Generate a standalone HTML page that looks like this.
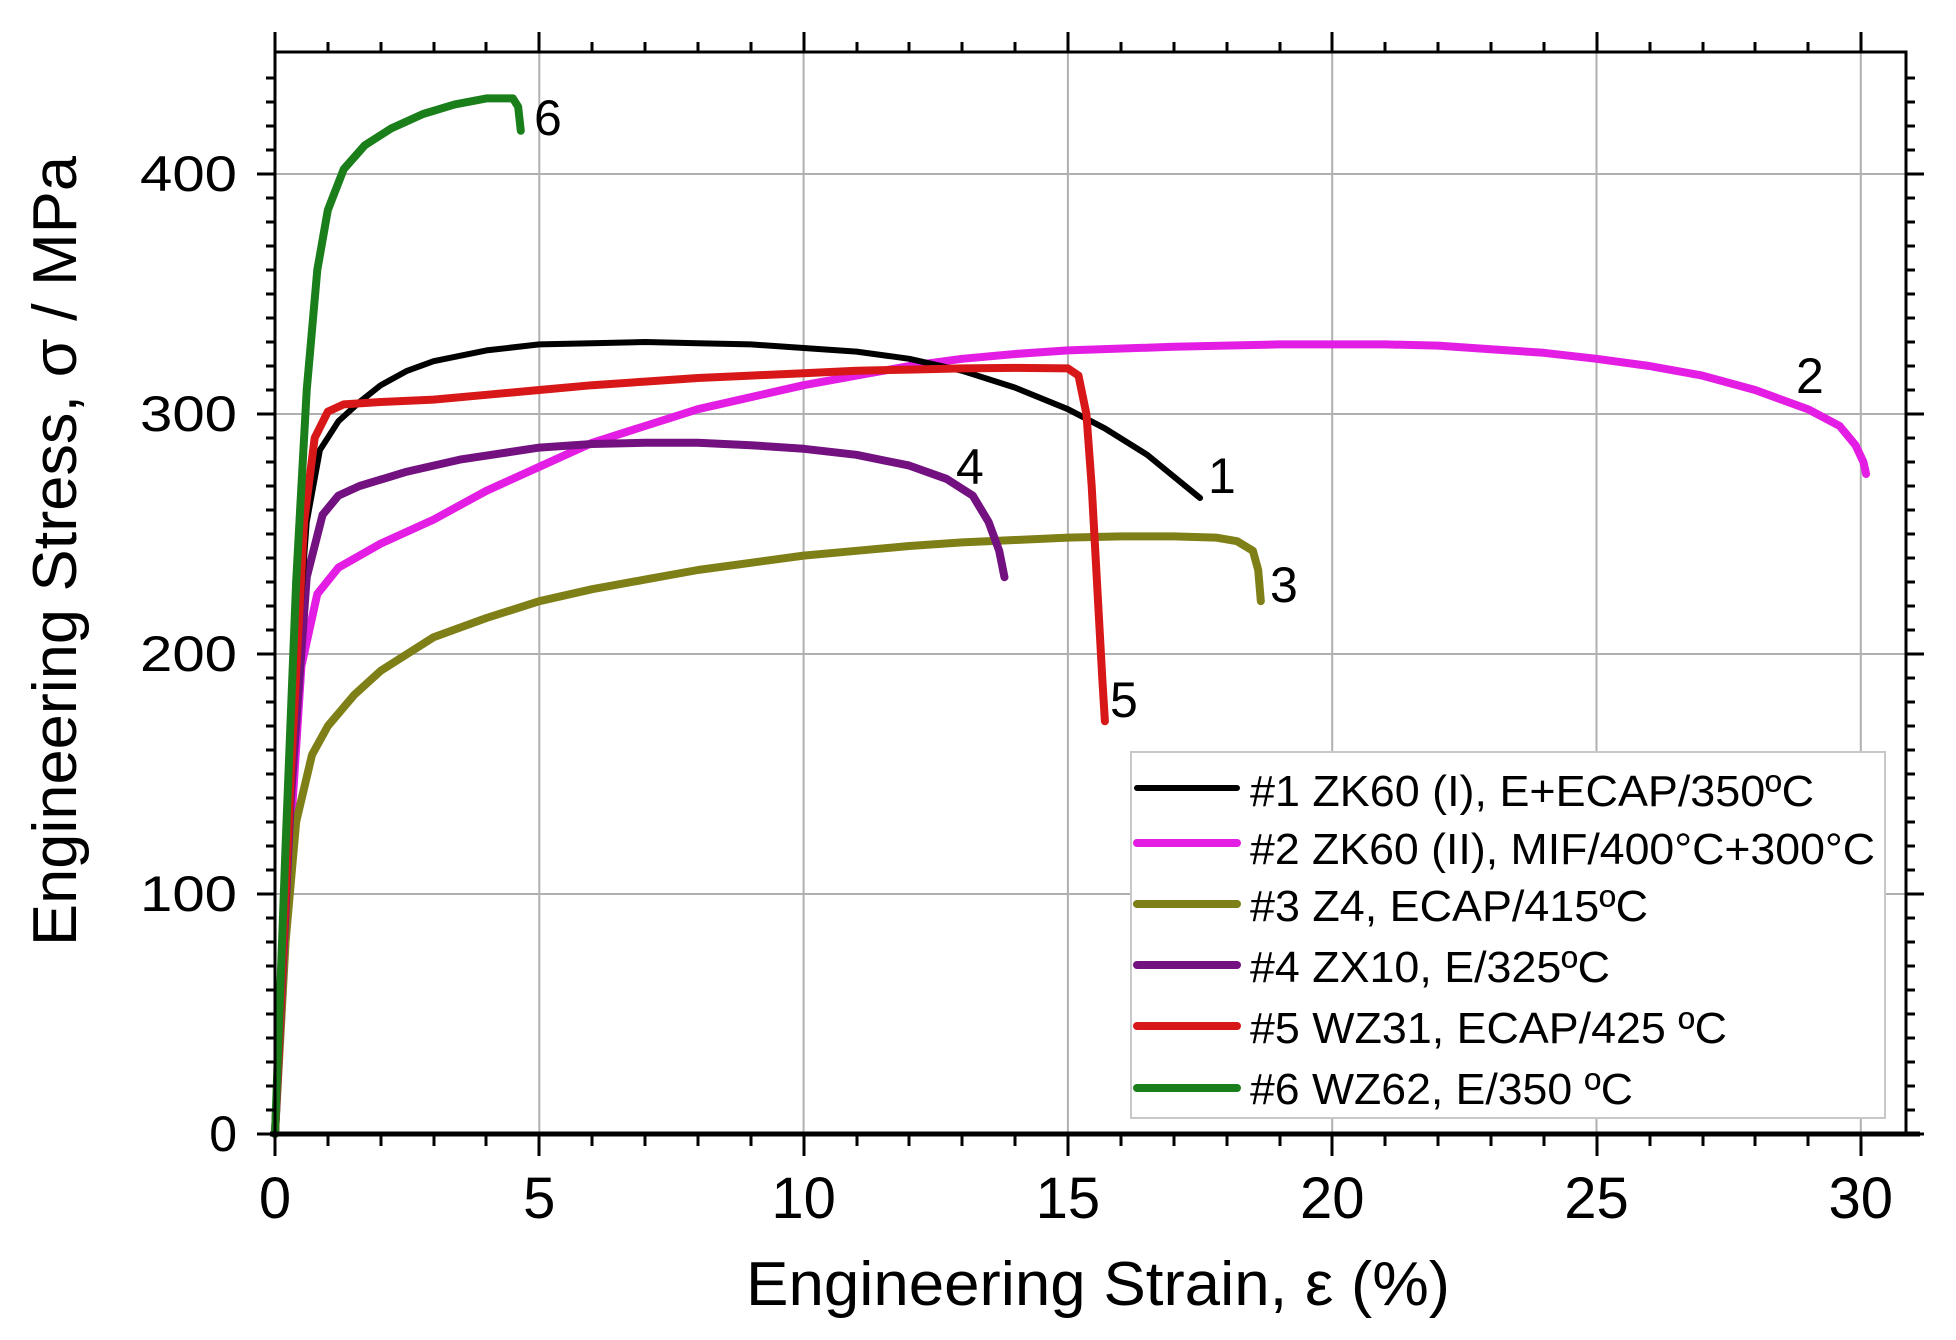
<!DOCTYPE html>
<html><head><meta charset="utf-8"><style>
html,body{margin:0;padding:0;background:#fff;}
svg{display:block;font-family:"Liberation Sans",Arial,sans-serif;}
</style></head><body>
<svg width="1956" height="1340" viewBox="0 0 1956 1340" xmlns="http://www.w3.org/2000/svg">
<rect width="1956" height="1340" fill="#fff"/>
<g stroke="#b0b0b0" stroke-width="2">
<line x1="539.3" y1="52" x2="539.3" y2="1134"/>
<line x1="803.6" y1="52" x2="803.6" y2="1134"/>
<line x1="1067.9" y1="52" x2="1067.9" y2="1134"/>
<line x1="1332.2" y1="52" x2="1332.2" y2="1134"/>
<line x1="1596.5" y1="52" x2="1596.5" y2="1134"/>
<line x1="1860.8" y1="52" x2="1860.8" y2="1134"/>
<line x1="275" y1="894" x2="1906" y2="894"/>
<line x1="275" y1="654" x2="1906" y2="654"/>
<line x1="275" y1="414" x2="1906" y2="414"/>
<line x1="275" y1="174" x2="1906" y2="174"/>
</g>
<g transform="translate(275,1134) scale(52.86,-2.4)" fill="none" stroke-linejoin="round" stroke-linecap="round">
<path vector-effect="non-scaling-stroke" stroke="#e31de3" stroke-width="8" d="M0,0 L0.25,110 L0.5,195 L0.8,225 L1.2,236 L2,246 L3,256 L4,268 L5,278 L6,288 L7,295 L8,302 L9,307 L10,312 L11,316 L12,320 L13,323 L14,325 L15,326.5 L17,328 L19,329 L21,329 L22,328.5 L23,327 L24,325.5 L25,323 L26,320 L27,316 L28,310 L29,302 L29.6,295 L29.9,287 L30.05,280 L30.1,275"/>
<path vector-effect="non-scaling-stroke" stroke="#7f7f17" stroke-width="8" d="M0,0 L0.2,80 L0.4,130 L0.7,158 L1,170 L1.5,183 L2,193 L3,207 L4,215 L5,222 L6,227 L7,231 L8,235 L9,238 L10,241 L11,243 L12,245 L13,246.5 L14,247.5 L15,248.5 L16,249 L17,249 L17.8,248.5 L18.2,247 L18.5,243 L18.6,235 L18.65,222"/>
<path vector-effect="non-scaling-stroke" stroke="#72117f" stroke-width="8" d="M0,0 L0.3,140 L0.6,232 L0.9,258 L1.2,266 L1.6,270 L2.5,276 L3.5,281 L5,286 L6,287.5 L7,288 L8,288 L9,287 L10,285.5 L11,283 L12,278.5 L12.7,273 L13.2,266 L13.5,255 L13.7,243 L13.8,232"/>
<path vector-effect="non-scaling-stroke" stroke="#000" stroke-width="6" d="M0,0 L0.35,180 L0.6,255 L0.85,285 L1.2,297 L1.6,305 L2,312 L2.5,318 L3,322 L4,326.5 L5,329 L6,329.5 L7,330 L8,329.5 L9,329 L10,327.5 L11,326 L12,323 L13,318 L14,311 L15,302 L15.7,294 L16.5,283 L17,274 L17.5,265"/>
<path vector-effect="non-scaling-stroke" stroke="#d81818" stroke-width="8" d="M0,0 L0.3,150 L0.55,255 L0.75,290 L1,301 L1.3,304 L2,305 L3,306 L4,308 L5,310 L6,312 L7,313.5 L8,315 L9,316 L10,317 L11,318 L12,318.5 L13,319 L14,319.2 L15,319 L15.2,316 L15.35,300 L15.45,270 L15.55,230 L15.65,190 L15.7,172"/>
<path vector-effect="non-scaling-stroke" stroke="#1a7f1a" stroke-width="8" d="M0,0 L0.2,120 L0.4,230 L0.6,310 L0.8,360 L1,385 L1.3,402 L1.7,412 L2.2,419 L2.8,425 L3.4,429 L4,431.5 L4.5,431.5 L4.6,428 L4.65,418"/>
</g>
<rect x="275" y="52" width="1631" height="1082" stroke="#000" fill="none" stroke-width="3"/>
<line x1="270" y1="1134" x2="1920" y2="1134" stroke="#000" stroke-width="5"/>
<rect x="1131" y="752" width="754" height="366" fill="#fff" stroke="#c8c8c8" stroke-width="2"/>
<g stroke-width="8" stroke-linecap="round">
<line x1="1137" y1="788" x2="1237" y2="788" stroke="#000" stroke-width="6"/>
<line x1="1137" y1="843" x2="1237" y2="843" stroke="#e31de3"/>
<line x1="1137" y1="904" x2="1237" y2="904" stroke="#7f7f17"/>
<line x1="1137" y1="965" x2="1237" y2="965" stroke="#72117f"/>
<line x1="1137" y1="1026" x2="1237" y2="1026" stroke="#d81818"/>
<line x1="1137" y1="1088" x2="1237" y2="1088" stroke="#1a7f1a"/>
</g>
<g font-size="44" fill="#000">
<text x="1250" y="806" textLength="564" lengthAdjust="spacingAndGlyphs">#1 ZK60 (I), E+ECAP/350ºC</text>
<text x="1250" y="864" textLength="625" lengthAdjust="spacingAndGlyphs">#2 ZK60 (II), MIF/400°C+300°C</text>
<text x="1250" y="921" textLength="398" lengthAdjust="spacingAndGlyphs">#3 Z4, ECAP/415ºC</text>
<text x="1250" y="982" textLength="360" lengthAdjust="spacingAndGlyphs">#4 ZX10, E/325ºC</text>
<text x="1250" y="1043" textLength="477" lengthAdjust="spacingAndGlyphs">#5 WZ31, ECAP/425 ºC</text>
<text x="1250" y="1104" textLength="383" lengthAdjust="spacingAndGlyphs">#6 WZ62, E/350 ºC</text>
</g>
<g font-size="50" fill="#000">
<text x="534" y="135">6</text>
<text x="1208" y="493">1</text>
<text x="1796" y="393">2</text>
<text x="956" y="484">4</text>
<text x="1270" y="602">3</text>
<text x="1110" y="717">5</text>
</g>
<g font-size="50" fill="#000" text-anchor="end">
<text x="237" y="1151">0</text>
<text x="237" y="911" textLength="97" lengthAdjust="spacingAndGlyphs">100</text>
<text x="237" y="671" textLength="97" lengthAdjust="spacingAndGlyphs">200</text>
<text x="237" y="431" textLength="97" lengthAdjust="spacingAndGlyphs">300</text>
<text x="237" y="191" textLength="97" lengthAdjust="spacingAndGlyphs">400</text>
</g>
<g font-size="58" fill="#000" text-anchor="middle">
<text x="275" y="1218">0</text>
<text x="539.3" y="1218">5</text>
<text x="803.6" y="1218">10</text>
<text x="1067.9" y="1218">15</text>
<text x="1332.2" y="1218">20</text>
<text x="1596.5" y="1218">25</text>
<text x="1860.8" y="1218">30</text>
</g>
<text x="746" y="1305" font-size="62" textLength="704" lengthAdjust="spacingAndGlyphs">Engineering Strain, ε (%)</text>
<text transform="translate(76,946) rotate(-90)" font-size="62" textLength="790" lengthAdjust="spacingAndGlyphs">Engineering Stress, σ / MPa</text>
<path stroke="#000" stroke-width="3" fill="none" d="
M275,1134v22 M328,1134v12 M381,1134v12 M434,1134v12 M486,1134v12 M539,1134v22 M592,1134v12 M645,1134v12 M698,1134v12 M751,1134v12 M804,1134v22 M857,1134v12 M909,1134v12 M962,1134v12 M1015,1134v12 M1068,1134v22 M1121,1134v12 M1174,1134v12 M1227,1134v12 M1280,1134v12 M1332,1134v22 M1385,1134v12 M1438,1134v12 M1491,1134v12 M1544,1134v12 M1597,1134v22 M1650,1134v12 M1703,1134v12 M1755,1134v12 M1808,1134v12 M1861,1134v22
M275,52v-20 M328,52v-10 M381,52v-10 M434,52v-10 M486,52v-10 M539,52v-20 M592,52v-10 M645,52v-10 M698,52v-10 M751,52v-10 M804,52v-20 M857,52v-10 M909,52v-10 M962,52v-10 M1015,52v-10 M1068,52v-20 M1121,52v-10 M1174,52v-10 M1227,52v-10 M1280,52v-10 M1332,52v-20 M1385,52v-10 M1438,52v-10 M1491,52v-10 M1544,52v-10 M1597,52v-20 M1650,52v-10 M1703,52v-10 M1755,52v-10 M1808,52v-10 M1861,52v-20
"/>
<path stroke="#000" stroke-width="3" fill="none" d="
M275,1134h-18 M275,1110h-9 M275,1086h-9 M275,1062h-9 M275,1038h-9 M275,1014h-9 M275,990h-9 M275,966h-9 M275,942h-9 M275,918h-9 M275,894h-18 M275,870h-9 M275,846h-9 M275,822h-9 M275,798h-9 M275,774h-9 M275,750h-9 M275,726h-9 M275,702h-9 M275,678h-9 M275,654h-18 M275,630h-9 M275,606h-9 M275,582h-9 M275,558h-9 M275,534h-9 M275,510h-9 M275,486h-9 M275,462h-9 M275,438h-9 M275,414h-18 M275,390h-9 M275,366h-9 M275,342h-9 M275,318h-9 M275,294h-9 M275,270h-9 M275,246h-9 M275,222h-9 M275,198h-9 M275,174h-18 M275,150h-9 M275,126h-9 M275,102h-9 M275,78h-9
M1906,1134h18 M1906,1110h9 M1906,1086h9 M1906,1062h9 M1906,1038h9 M1906,1014h9 M1906,990h9 M1906,966h9 M1906,942h9 M1906,918h9 M1906,894h18 M1906,870h9 M1906,846h9 M1906,822h9 M1906,798h9 M1906,774h9 M1906,750h9 M1906,726h9 M1906,702h9 M1906,678h9 M1906,654h18 M1906,630h9 M1906,606h9 M1906,582h9 M1906,558h9 M1906,534h9 M1906,510h9 M1906,486h9 M1906,462h9 M1906,438h9 M1906,414h18 M1906,390h9 M1906,366h9 M1906,342h9 M1906,318h9 M1906,294h9 M1906,270h9 M1906,246h9 M1906,222h9 M1906,198h9 M1906,174h18 M1906,150h9 M1906,126h9 M1906,102h9 M1906,78h9
"/>
</svg>
</body></html>
